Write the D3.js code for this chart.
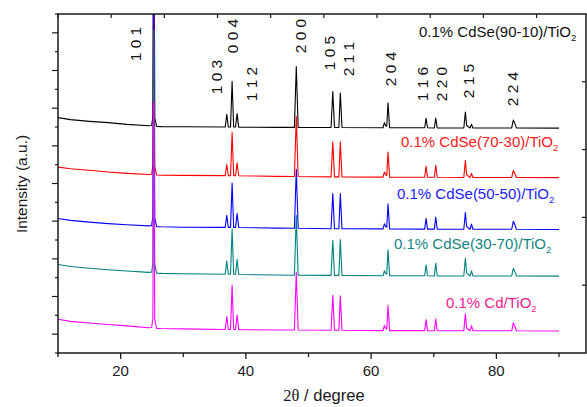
<!DOCTYPE html>
<html><head><meta charset="utf-8">
<script src="https://cdn.jsdelivr.net/npm/d3@7/dist/d3.min.js"></script>
<style>
html,body{margin:0;padding:0;background:#fff;}
svg{display:block;font-family:"Liberation Sans",Arial,sans-serif;}
</style></head>
<body>
<svg id="chart" width="587" height="407"></svg>
<script>
// ---- data (2θ in degrees, intensity in a.u. above each curve's offset) ----
const seriesNames = ["0.1% CdSe(90-10)/TiO", "0.1% CdSe(70-30)/TiO", "0.1% CdSe(50-50)/TiO", "0.1% CdSe(30-70)/TiO", "0.1% Cd/TiO"];
const seriesOffsets = [1194, 931, 656, 408, 117];

const blackData = [[10,56],[12,45],[15,36],[18,29],[21,20],[24.5,13],[24.95,14],[25.15,60],[25.3,1700],[25.45,55],[25.75,9],[26.5,8],[30,7],[36.7,6],[36.95,73],[37.2,6],[37.55,6],[37.8,248],[38.05,6],[38.35,6],[38.6,77],[38.85,5],[45,4],[47.75,4],[48.05,327],[48.35,3],[53.6,3],[53.88,194],[54.15,3],[54.85,3],[55.08,186],[55.35,3],[61.9,2],[62.12,29],[62.35,12],[62.5,10],[62.7,135],[62.95,2],[68.55,2],[68.78,52],[69.0,2],[70.1,1],[70.32,54],[70.55,1],[74.8,1],[75.05,86],[75.25,14],[75.8,1],[76.03,20],[76.25,1],[82.45,1],[82.7,43],[82.95,25],[83.2,1],[90,0]];
const redData = [[10,56],[12,47],[15,39],[18,30],[21,23],[24.5,17],[24.95,18],[25.15,65],[25.3,1700],[25.45,60],[25.75,14],[26.5,13],[30,12],[36.7,11],[36.95,69],[37.2,11],[37.55,11],[37.8,239],[38.05,11],[38.35,11],[38.6,78],[38.85,10],[45,7],[47.75,6],[48.05,324],[48.35,6],[53.6,4],[53.88,190],[54.15,4],[54.85,4],[55.08,190],[55.35,4],[61.9,3],[62.12,30],[62.35,14],[62.5,12],[62.7,136],[62.95,3],[68.55,2],[68.78,60],[69.0,2],[70.1,2],[70.32,66],[70.55,2],[74.8,1],[75.05,91],[75.25,15],[75.8,1],[76.03,22],[76.25,1],[82.45,1],[82.7,38],[82.95,22],[83.2,1],[90,0]];
const blueData = [[10,58],[12,48],[15,39],[18,31],[21,25],[24.5,19],[24.95,20],[25.15,68],[25.3,1500],[25.45,62],[25.75,15],[26.5,14],[30,12],[36.7,11],[36.95,75],[37.2,11],[37.55,11],[37.8,247],[38.05,11],[38.35,11],[38.6,85],[38.85,10],[45,7],[47.75,6],[48.05,319],[48.35,6],[53.6,4],[53.88,190],[54.15,4],[54.85,4],[55.08,190],[55.35,4],[61.9,3],[62.12,30],[62.35,14],[62.5,12],[62.7,136],[62.95,3],[68.55,2],[68.78,59],[69.0,2],[70.1,2],[70.32,66],[70.55,2],[74.8,1],[75.05,90],[75.25,15],[75.8,1],[76.03,28],[76.25,1],[82.45,1],[82.7,43],[82.95,25],[83.2,1],[90,0]];
const tealData = [[10,62],[12,51],[15,42],[18,34],[21,27],[24.5,20],[24.95,21],[25.15,70],[25.3,1308],[25.45,64],[25.75,16],[26.5,15],[30,13],[36.7,10],[36.95,80],[37.2,10],[37.55,10],[37.8,251],[38.05,10],[38.35,10],[38.6,90],[38.85,9],[45,6],[47.75,5],[48.05,323],[48.35,5],[53.6,4],[53.88,190],[54.15,4],[54.85,4],[55.08,195],[55.35,4],[61.9,2],[62.12,29],[62.35,13],[62.5,11],[62.7,140],[62.95,2],[68.55,2],[68.78,60],[69.0,2],[70.1,1],[70.32,68],[70.55,1],[74.8,1],[75.05,95],[75.25,16],[75.8,1],[76.03,28],[76.25,1],[82.45,1],[82.7,42],[82.95,24],[83.2,1],[90,0]];
const magentaData = [[10,62],[12,51],[15,42],[18,34],[21,27],[24.5,17],[24.95,18],[25.15,66],[25.3,1217],[25.45,60],[25.75,14],[26.5,13],[30,11],[36.7,8],[36.95,77],[37.2,8],[37.55,8],[37.8,244],[38.05,8],[38.35,8],[38.6,85],[38.85,7],[45,5],[47.75,5],[48.05,312],[48.35,5],[53.6,4],[53.88,190],[54.15,4],[54.85,4],[55.08,187],[55.35,4],[61.9,2],[62.12,29],[62.35,13],[62.5,11],[62.7,135],[62.95,2],[68.55,2],[68.78,60],[69.0,2],[70.1,1],[70.32,65],[70.55,1],[74.8,1],[75.05,91],[75.25,16],[75.8,1],[76.03,28],[76.25,1],[82.45,1],[82.7,43],[82.95,25],[83.2,1],[90,0]];

const hklLabels = ["1 0 1","1 0 3","0 0 4","1 1 2","2 0 0","1 0 5","2 1 1","2 0 4","1 1 6","2 2 0","2 1 5","2 2 4"];
const xTickLabels = [20, 40, 60, 80];

// ---- layout / style (not data) ----
const W = 587, H = 407;
const M = {left: 58, top: 14, right: 586, bottom: 353};
const seriesColors = ["#000000", "#ff0000", "#0000ff", "#008080", "#ff00ff"];
const labelColors = ["#111111", "#ff2020", "#2020ff", "#138585", "#f31a8e"];
const labelPos = [[419, 37], [401, 147], [397, 198.5], [394, 248.5], [446, 308]];
const hklPos = [[22.29,44],[35.22,77],[37.78,36],[40.81,84],[48.63,36],[53.31,53],[56.35,59],[63.0,69],[68.23,84],[71.26,84],[75.51,81],[82.6,89]];

const svg = d3.select("#chart");
const x = d3.scaleLinear().domain([10, 10 + (M.right - M.left) / 6.2625]).range([M.left, M.right]);
const y = d3.scaleLinear().domain([0, 1800]).range([M.bottom, M.top]);
const xTop = d3.scaleLinear().domain([0, 9.93]).range([M.left, M.right]);
const yRight = d3.scaleLinear().domain([0, 5]).range([M.bottom, M.top]);

svg.append("defs").append("clipPath").attr("id", "clip")
  .append("rect").attr("x", M.left).attr("y", M.top).attr("width", M.right - M.left).attr("height", M.bottom - M.top);

const allData = [blackData, redData, blueData, tealData, magentaData];
const g = svg.append("g").attr("clip-path", "url(#clip)");
allData.forEach((d, i) => {
  const line = d3.line().x(p => x(p[0])).y(p => y(p[1] + seriesOffsets[i]));
  g.append("path").attr("d", line(d)).attr("fill", "none")
    .attr("stroke", seriesColors[i]).attr("stroke-width", 1.1).attr("stroke-linejoin", "round");
});

// axes
const axisColor = "#1a1a1a";
const bottom = svg.append("g").attr("transform", `translate(0,${M.bottom})`)
  .call(d3.axisBottom(x).tickValues(d3.range(10, 91, 10)).tickSize(0).tickFormat(""));
bottom.selectAll(".tick line").remove();
bottom.select(".domain").remove();
d3.range(10, 91, 10).forEach(v => {
  const major = xTickLabels.includes(v);
  svg.append("line").attr("x1", x(v)).attr("x2", x(v)).attr("y1", M.bottom).attr("y2", M.bottom + (major ? 6 : 4))
    .attr("stroke", axisColor).attr("stroke-width", 1.3);
});
xTickLabels.forEach(v => {
  svg.append("text").attr("x", x(v)).attr("y", 376).attr("text-anchor", "middle")
    .attr("font-size", 15).attr("fill", "#1a1a1a").text(v);
});
d3.range(0, 1801, 100).forEach(v => {
  const major = (v / 100) % 2 === 1;
  svg.append("line").attr("x1", M.left).attr("x2", M.left - (major ? 6 : 3)).attr("y1", y(v)).attr("y2", y(v))
    .attr("stroke", axisColor).attr("stroke-width", 1.2);
});
d3.range(0, 10).forEach(v => {
  svg.append("line").attr("x1", xTop(v)).attr("x2", xTop(v)).attr("y1", M.top).attr("y2", M.top + 4)
    .attr("stroke", axisColor).attr("stroke-width", 1.2);
});
d3.range(1, 5).forEach(v => {
  svg.append("line").attr("x1", M.right).attr("x2", M.right - 4).attr("y1", yRight(v)).attr("y2", yRight(v))
    .attr("stroke", axisColor).attr("stroke-width", 1.2);
});
svg.append("rect").attr("x", M.left).attr("y", M.top).attr("width", M.right - M.left).attr("height", M.bottom - M.top)
  .attr("fill", "none").attr("stroke", axisColor).attr("stroke-width", 1.5);

// axis titles
const xt = svg.append("text").attr("x", 324).attr("y", 401).attr("text-anchor", "middle").attr("font-size", 16.5).attr("fill", "#1a1a1a");
xt.append("tspan").attr("font-family", "'Liberation Serif','Times New Roman',serif").text("2θ");
xt.append("tspan").text(" / degree");
svg.append("text").attr("transform", "translate(27,184) rotate(-90)").attr("text-anchor", "middle")
  .attr("font-size", 15.5).attr("fill", "#1a1a1a").text("Intensity (a.u.)");

// hkl labels
hklLabels.forEach((t, i) => {
  svg.append("text").attr("transform", `translate(${x(hklPos[i][0])},${hklPos[i][1]}) rotate(-90)`)
    .attr("text-anchor", "middle").attr("dy", "0.36em").attr("font-size", 15.5).attr("fill", "#111").text(t);
});

// series labels
seriesNames.forEach((t, i) => {
  const tx = svg.append("text").attr("x", labelPos[i][0]).attr("y", labelPos[i][1])
    .attr("font-size", 15).attr("fill", labelColors[i]);
  tx.append("tspan").text(t);
  tx.append("tspan").attr("font-size", 9.5).attr("dy", 4).text("2");
});
</script>
</body></html>
